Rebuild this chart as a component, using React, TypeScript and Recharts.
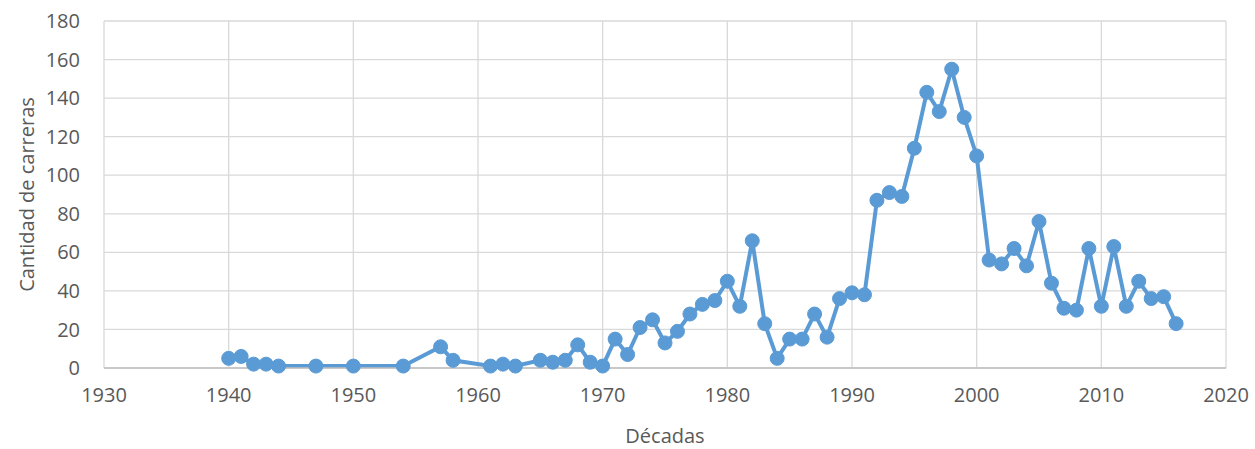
import { LineChart, Line, XAxis, YAxis, CartesianGrid } from 'recharts';

// Años y cantidad de carreras
const years = [
  1940, 1941, 1942, 1943, 1944, 1947, 1950, 1954, 1957, 1958,
  1961, 1962, 1963, 1965, 1966, 1967, 1968, 1969, 1970, 1971,
  1972, 1973, 1974, 1975, 1976, 1977, 1978, 1979, 1980, 1981,
  1982, 1983, 1984, 1985, 1986, 1987, 1988, 1989, 1990, 1991,
  1992, 1993, 1994, 1995, 1996, 1997, 1998, 1999, 2000, 2001,
  2002, 2003, 2004, 2005, 2006, 2007, 2008, 2009, 2010, 2011,
  2012, 2013, 2014, 2015, 2016,
];
const carreras = [
  5, 6, 2, 2, 1, 1, 1, 1, 11, 4,
  1, 2, 1, 4, 3, 4, 12, 3, 1, 15,
  7, 21, 25, 13, 19, 28, 33, 35, 45, 32,
  66, 23, 5, 15, 15, 28, 16, 36, 39, 38,
  87, 91, 89, 114, 143, 133, 155, 130, 110, 56,
  54, 62, 53, 76, 44, 31, 30, 62, 32, 63,
  32, 45, 36, 37, 23,
];
const xTicks = [1930, 1940, 1950, 1960, 1970, 1980, 1990, 2000, 2010, 2020];
const yTicks = [0, 20, 40, 60, 80, 100, 120, 140, 160, 180];

const data = years.map((y, i) => ({ year: y, value: carreras[i] }));

const FONT = '"Open Sans", sans-serif';
const TEXT = '#595959';
const BLUE = '#5B9BD5';
const FS = 20;

export default function App() {
  return (
    <div style={{ position: 'absolute', left: 0, top: 0, width: 1255, height: 449, background: '#fff' }}>
      <LineChart width={1255} height={449} data={data} margin={{ top: 21, right: 29, left: 0, bottom: 0 }}>
        <CartesianGrid stroke="#D9D9D9" strokeWidth={1.3} />
        <XAxis
          dataKey="year"
          type="number"
          domain={[1930, 2020]}
          ticks={xTicks}
          height={81}
          stroke="#BFBFBF"
          strokeWidth={1.5}
          tickLine={false}
          tickSize={0}
          tickMargin={20}
          tick={{ fill: TEXT, fontSize: FS, fontFamily: FONT }}
          label={{ value: 'Décadas', position: 'insideBottom', offset: 6, fill: TEXT, fontSize: FS, fontFamily: FONT }}
        />
        <YAxis
          type="number"
          domain={[0, 180]}
          ticks={yTicks}
          width={104}
          axisLine={false}
          tickLine={false}
          tickSize={0}
          tickMargin={24}
          tick={{ fill: TEXT, fontSize: FS, fontFamily: FONT }}
          label={{
            value: 'Cantidad de carreras',
            angle: -90,
            position: 'insideLeft',
            offset: 27,
            style: { textAnchor: 'middle' },
            fill: TEXT,
            fontSize: FS,
            fontFamily: FONT,
          }}
        />
        <Line
          type="linear"
          dataKey="value"
          stroke={BLUE}
          strokeWidth={4}
          dot={{ r: 7, fill: BLUE, stroke: BLUE, strokeWidth: 1 }}
          activeDot={false}
          isAnimationActive={false}
        />
      </LineChart>
    </div>
  );
}
